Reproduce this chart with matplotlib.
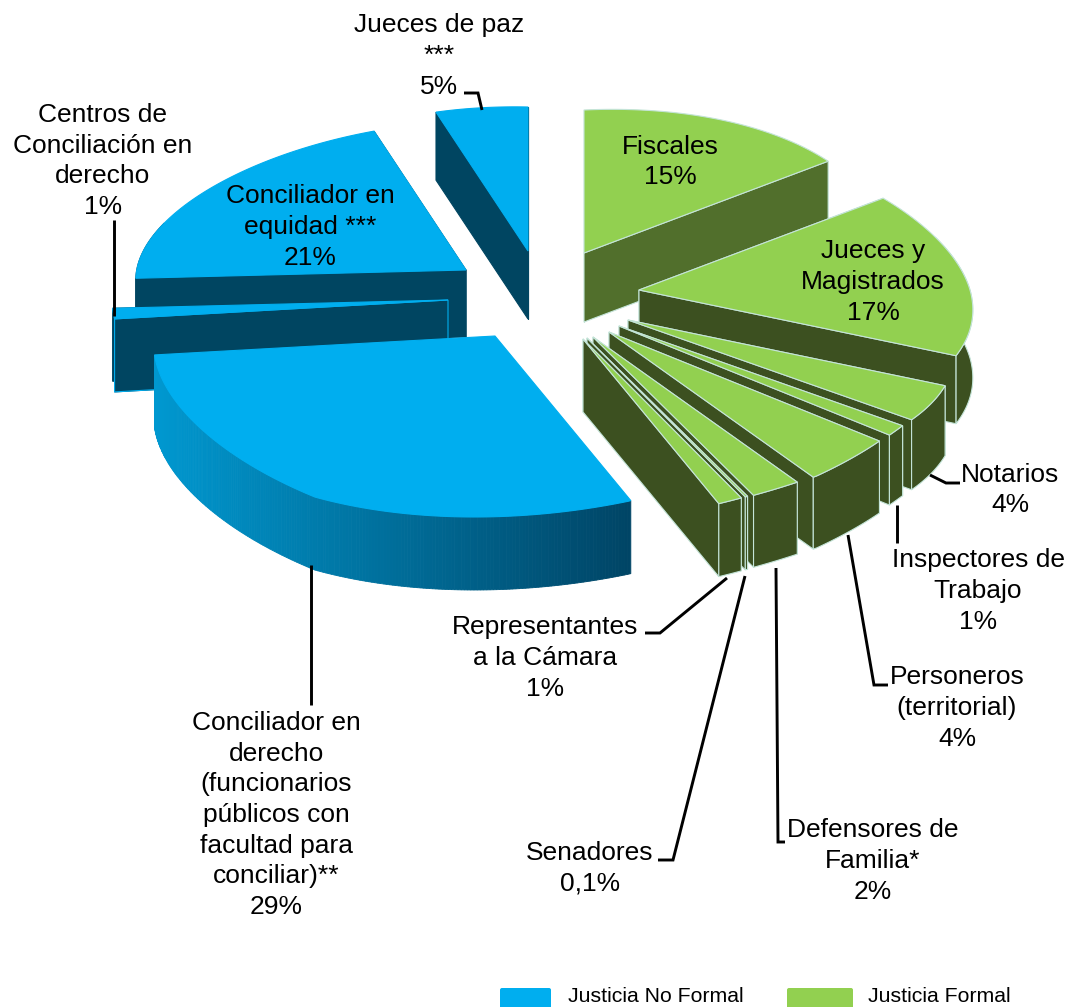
import numpy as np
import matplotlib
matplotlib.use("Agg")
import matplotlib.pyplot as plt
from matplotlib.patches import Polygon, FancyBboxPatch

plt.rcParams['font.family'] = ['Liberation Sans', 'DejaVu Sans']

# ---- data (clockwise from 12 o'clock) ----
categories = ["Fiscales", "Jueces y Magistrados", "Notarios", "Inspectores de Trabajo",
              "Personeros (territorial)", "Defensores de Familia*", "Senadores",
              "Representantes a la Cámara", "Conciliador en derecho", "Centros de Conciliación en derecho",
              "Conciliador en equidad ***", "Jueces de paz ***"]
values = [15, 17, 4, 1, 4, 2, 0.1, 1, 29, 1, 21, 5]
groups = ["F", "F", "F", "F", "F", "F", "F", "F", "N", "N", "N", "N"]
legend_labels = ["Justicia No Formal", "Justicia Formal"]

# ---- layout: exploded apex of each slice, wall depth, draw order ----
apex_x = [584, 639, 628, 619, 609, 593, 587, 583, 495, 448, 466, 528]
apex_y = [253, 290, 320, 326, 332, 337, 338, 339, 336, 300, 270, 251]
depth = [69, 68, 70, 70, 72, 72, 73, 73, 73, 73, 67, 68]
order = [0, 11, 10, 9, 1, 2, 3, 4, 5, 6, 7, 8]
# perspective of the pie: radii as function of the angle
knot_t = [0, 54, 90, 115, 130, 147, 159, 210, 263, 266, 342, 360]
knot_rx = [300, 302, 331, 350, 368, 380, 372, 360, 343, 331, 298, 300]
knot_ry = [143, 156, 155, 155, 157, 172, 177, 186, 153, 135, 146, 144]
centros_rx = 336

BLUE, GREEN = "#00AEEF", "#92D050"
WALL_BLUE, WALL_GREEN, WALL_FISC = "#004561", "#3C5020", "#516F2C"
EDGE_GREEN = "#C4E4D8"

fig = plt.figure(figsize=(10.68, 10.07), dpi=100)
ax = fig.add_axes([0, 0, 1, 1])
ax.set_xlim(0, 1068)
ax.set_ylim(1007, 0)
ax.axis("off")

edges = np.cumsum([0] + values) / np.sum(values) * 360.0


def rim(i, t):
    rx = centros_rx if i == 9 else np.interp(t, knot_t, knot_rx)
    ry = np.interp(t, knot_t, knot_ry)
    r = np.radians(t)
    return np.column_stack([apex_x[i] + rx * np.sin(r), apex_y[i] - ry * np.cos(r)])


def gradient(x):
    f = np.clip((x - 155) / (628 - 155), 0, 1)
    a = np.array([0x00, 0x98, 0xD0]) / 255
    b = np.array([0x00, 0x45, 0x66]) / 255
    return tuple(a + (b - a) * f)


for i in order:
    t0, t1 = edges[i], edges[i + 1]
    cx, cy, d = apex_x[i], apex_y[i], depth[i]
    formal = groups[i] == "F"
    top = GREEN if formal else BLUE
    wall = (WALL_FISC if i == 0 else WALL_GREEN) if formal else WALL_BLUE
    ec = EDGE_GREEN if formal else BLUE
    wall_ec = ec if formal else wall
    lw = 0.8
    z = order.index(i) + 1
    t = np.linspace(t0, t1, max(8, int(t1 - t0) * 2))
    arc = rim(i, t)
    down = np.array([0, d])
    c0 = np.array([cx, cy])
    # radial walls (the big slice's are all hidden by its top or outer wall)
    va = t[(t >= 70) & (t <= 290)]
    if i != 8:
        for e in (arc[0], arc[-1]):
            q = [c0, e, e + down, c0 + down]
            ax.add_patch(Polygon(q, closed=True, fc=wall, ec=wall_ec, lw=lw, zorder=z))
    # outer wall, only the part facing the viewer
    if len(va) > 1:
        p = rim(i, va)
        if i == 8:
            for k in range(len(p) - 1):
                q = [p[k], p[k + 1], p[k + 1] + down, p[k] + down]
                c = gradient(p[k][0])
                ax.add_patch(Polygon(q, closed=True, fc=c, ec=c, lw=0.6, zorder=z))
        elif i != 9:
            q = np.vstack([p, (p + down)[::-1]])
            ax.add_patch(Polygon(q, closed=True, fc=wall, ec=wall_ec, lw=lw, zorder=z))
    if i == 9:
        e = arc[0]
        q = [c0, e, e + down, c0 + down]
        ax.add_patch(Polygon(q, closed=True, fc=wall, ec=BLUE, lw=lw, zorder=z))
    # top
    q = np.vstack([c0, arc])
    ax.add_patch(Polygon(q, closed=True, fc=top, ec=ec, lw=lw, zorder=z + 0.5))

# ---- leader lines ----
leaders = [
    [(464, 93), (478, 93), (482, 110)],
    [(114, 220), (114, 316)],
    [(311, 565), (311, 705)],
    [(727, 578), (660, 633), (645, 633)],
    [(745, 576), (673, 860), (658, 860)],
    [(776, 568), (778, 842), (785, 842)],
    [(848, 535), (874, 685), (888, 685)],
    [(897, 505), (897, 543)],
    [(930, 475), (946, 483), (960, 483)],
]
for pts in leaders:
    xs, ys = zip(*pts)
    ax.plot(xs, ys, color="black", lw=2.1, solid_joinstyle="miter", solid_capstyle="butt", zorder=20)

# ---- labels ----
labels = [
    ("Jueces de paz\n***\n5%", 439, 56),
    ("Centros de\nConciliación en\nderecho\n1%", 103, 161),
    ("Conciliador en\nequidad ***\n21%", 310, 227),
    ("Fiscales\n15%", 670, 162),
    ("Jueces y\nMagistrados\n17%", 873, 282),
    ("Notarios\n4%", 1010, 490),
    ("Inspectores de\nTrabajo\n1%", 978, 591),
    ("Personeros\n(territorial)\n4%", 957, 708),
    ("Defensores de\nFamilia*\n2%", 873, 861),
    ("Senadores\n0,1%", 590, 868),
    ("Representantes\na la Cámara\n1%", 545, 658),
    ("Conciliador en\nderecho\n(funcionarios\npúblicos con\nfacultad para\nconciliar)**\n29%", 276, 815),
]
for s, x, y in labels:
    ax.text(x, y, s, ha="center", va="center", ma="center", fontsize=19, linespacing=1.35,
            color="black", zorder=30)

# ---- legend ----
for (x0, x1), c, lab, tx in zip([(500, 551), (787, 853)], [BLUE, GREEN], legend_labels, [568, 868]):
    ax.add_patch(FancyBboxPatch((x0 + 2, 990), x1 - x0 - 4, 20, boxstyle="round,pad=2", fc=c, ec=c, lw=0,
                                zorder=30, clip_on=True))
    ax.text(tx, 997, lab, ha="left", va="center", fontsize=15.3, color="black", zorder=30)

fig.savefig("out.png", dpi=100)
